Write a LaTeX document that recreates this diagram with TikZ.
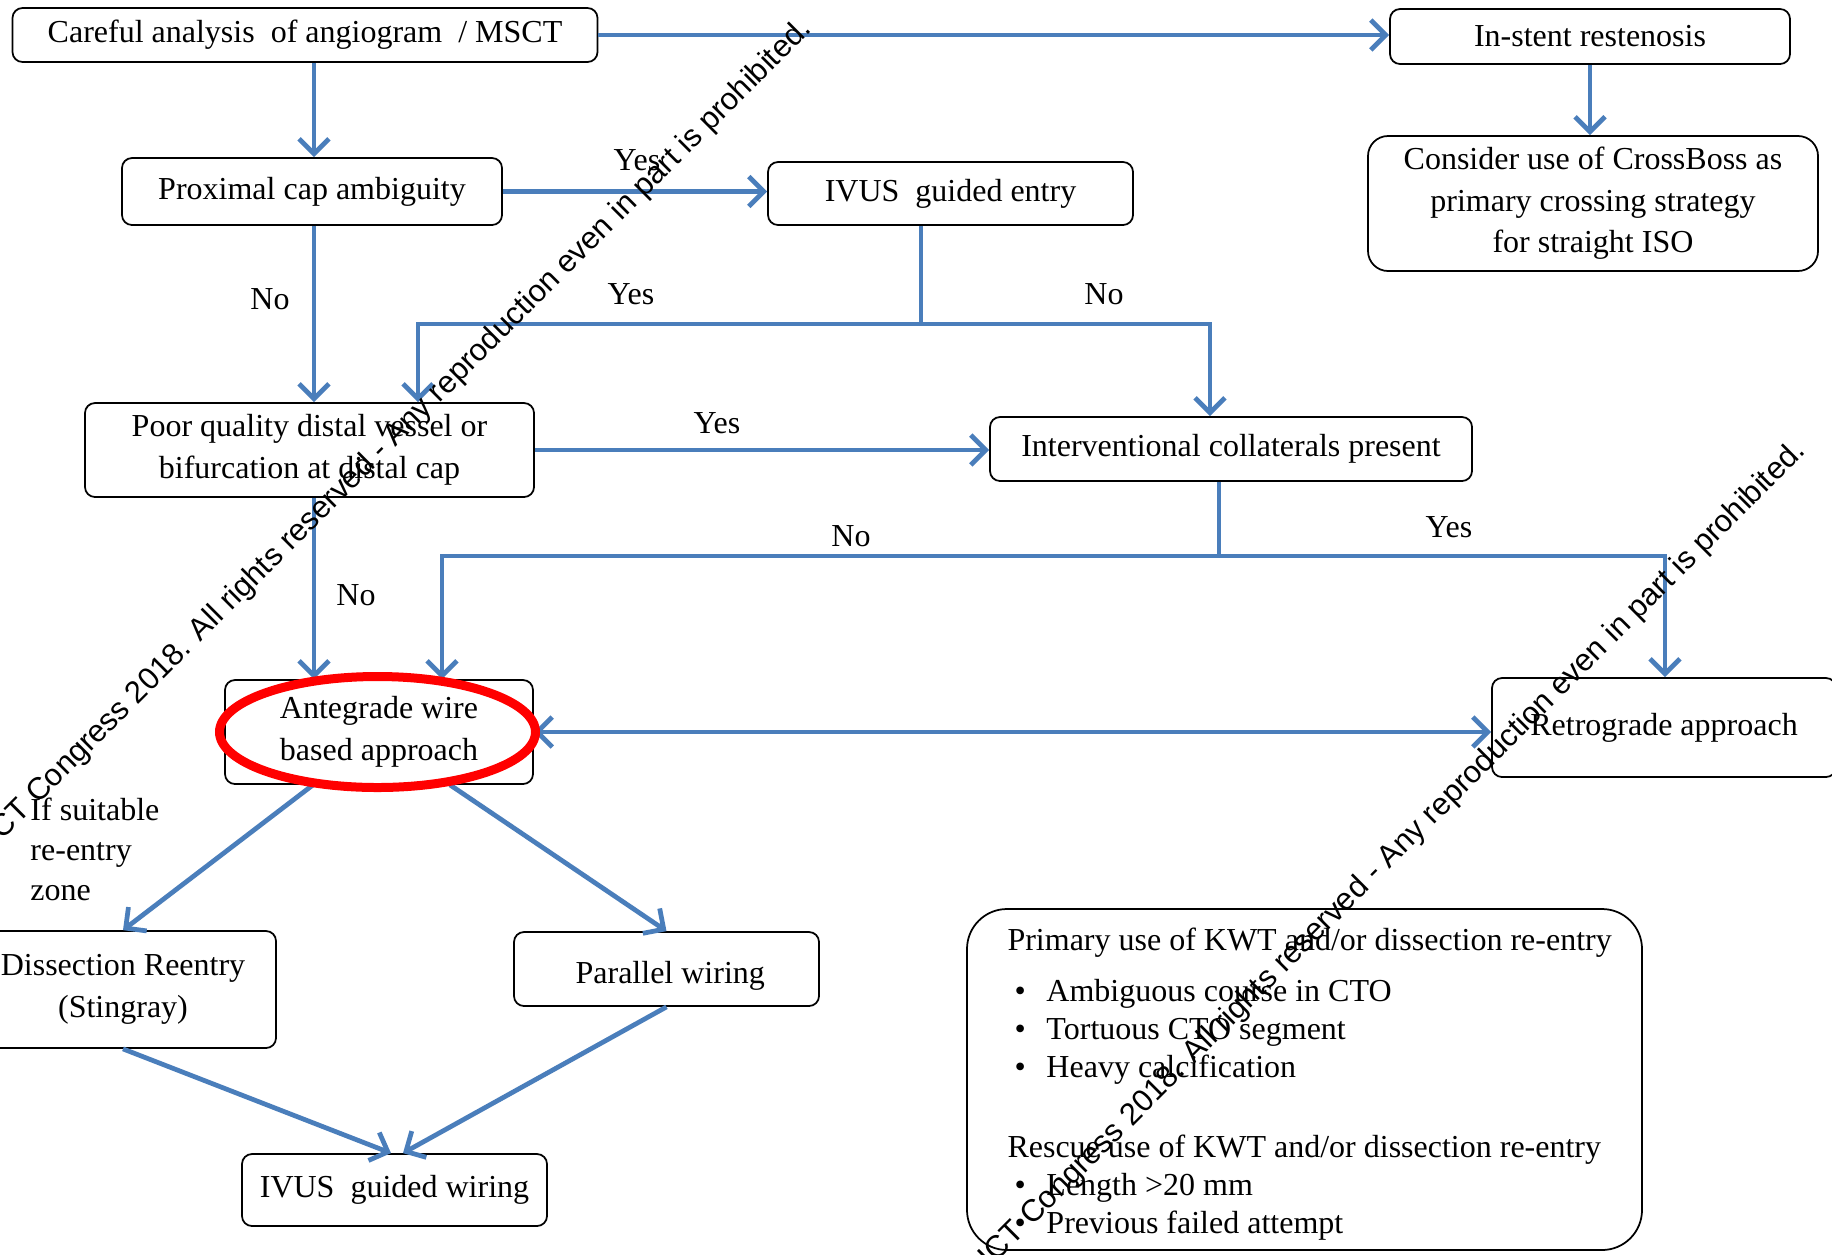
\documentclass[tikz,border=0pt]{standalone}
\usepackage{fontspec}
\setmainfont{Liberation Serif}
\newfontfamily\markfam{Liberation Sans}
\usetikzlibrary{arrows.meta}

\definecolor{flowblue}{RGB}{74,126,187}
\newcommand{\boxfont}{\fontsize{12.8}{16.6}\selectfont}
\newcommand{\bul}{\hspace*{2.8pt}\makebox[12.8pt][l]{\textbullet}}

\begin{document}
\begin{tikzpicture}[x=0.4pt, y=-0.4pt,
  box/.style={draw, line width=0.7pt, rounded corners=4pt, align=center, inner sep=1pt, font=\boxfont},
  arr/.style={flowblue, line width=1.9pt, -{Straight Barb[length=6pt,width=12pt]}},
  dblarr/.style={arr, {Straight Barb[length=6pt,width=12pt]}-{Straight Barb[length=6pt,width=12pt]}},
  link/.style={flowblue, line width=1.9pt},
  lbl/.style={font=\boxfont, inner sep=0pt},
  wmark/.style={font=\markfam\fontsize{12.4}{14}\selectfont, rotate=45, inner sep=0pt, anchor=base east}]

  %--- page frame (pixels of the original, y downwards)
  \useasboundingbox (0,0) rectangle (1832,1254);
  \fill[white] (0,0) rectangle (1832,1254);
  \clip (0,0) rectangle (1832,1254);

  %--- parameters
  \def\xtrunk{314}   % left vertical trunk
  \def\ysplitA{324}  % branch level under IVUS guided entry
  \def\ysplitB{556}  % branch level under collaterals

  %--- boxes
  \node[box, minimum width=234pt, minimum height=21.6pt] (careful) at (305,35) {Careful analysis\ \ of angiogram\ \ / MSCT};
  \node[box, minimum width=160pt, minimum height=22pt] (instent) at (1590,36.5) {In-stent restenosis};
  \node[box, rounded corners=8pt, minimum width=180pt, minimum height=54pt] (crossboss) at (1593,203.5)
    {Consider use of CrossBoss as\\primary crossing strategy\\for straight ISO};
  \node[box, minimum width=152pt, minimum height=26.8pt] (proximal) at (312,191.5) {Proximal cap ambiguity};
  \node[box, minimum width=146pt, minimum height=25.2pt] (ivusentry) at (950.5,193.5) {IVUS\ \ guided entry};
  \node[box, minimum width=179.6pt, minimum height=37.6pt] (poor) at (309.5,450) {Poor quality distal vessel or\\bifurcation at distal cap};
  \node[box, minimum width=192.8pt, minimum height=25.6pt] (interv) at (1231,449) {Interventional collaterals present};
  \node[box, minimum width=123.2pt, minimum height=41.6pt] (antegrade) at (379,732) {Antegrade wire\\based approach};
  \node[box, minimum width=137.6pt, minimum height=39.6pt] (retro) at (1664,727.5) {Retrograde approach};
  \node[box, minimum width=122.4pt, minimum height=46.8pt] (dissect) at (123,989.5) {Dissection Reentry\\(Stingray)};
  \node[box, minimum width=122pt, minimum height=29.6pt, text height=14.3pt] (parallel) at (666.5,969) {\hspace*{3pt}Parallel wiring};
  \node[box, minimum width=122pt, minimum height=28.8pt] (ivuswiring) at (394.5,1190) {IVUS\ \ guided wiring};

  %--- KWT box
  \node[box, rounded corners=16pt, minimum width=270pt, minimum height=136.4pt] (kwt) at (1304.5,1079.5) {};
  \node[lbl, align=left, anchor=north west, font=\fontsize{12.8}{15.2}\selectfont] (kwttext) at (1007,927)
    {Primary use of KWT and/or dissection re-entry\\[5.2pt]
     \bul Ambiguous course in CTO\\
     \bul Tortuous CTO segment\\
     \bul Heavy calcification\\[16.8pt]
     Rescue use of KWT and/or dissection re-entry\\
     \bul Length >20 mm\\
     \bul Previous failed attempt};

  %--- helper points
  \coordinate (ctrunk) at (\xtrunk,0);
  \coordinate (ivsplit) at (921,\ysplitA);
  \coordinate (ivl) at (418,\ysplitA);
  \coordinate (ivr) at (1210,\ysplitA);
  \coordinate (insplit) at (1219,\ysplitB);
  \coordinate (inl) at (442,\ysplitB);
  \coordinate (inr) at (1665,\ysplitB);

  %--- connectors
  \draw[arr] (careful.east) -- (careful.east -| instent.west);
  \draw[arr] (careful.south -| ctrunk) -- (proximal.north -| ctrunk);
  \draw[arr] (instent.south) -- (instent.south |- crossboss.north);
  \draw[arr] (proximal.east) -- (proximal.east -| ivusentry.west);
  \draw[arr] (proximal.south -| ctrunk) -- (poor.north -| ctrunk);
  \draw[link] (ivusentry.south -| ivsplit) -- (ivsplit);
  \draw[arr] (ivsplit) -| (ivl |- poor.north);
  \draw[arr] (ivsplit) -| (ivr |- interv.north);
  \draw[arr] (poor.east) -- (poor.east -| interv.west);
  \draw[arr] (poor.south -| ctrunk) -- (antegrade.north -| ctrunk);
  \draw[link] (interv.south -| insplit) -- (insplit);
  \draw[arr] (insplit) -| (inl |- antegrade.north);
  \draw[arr] (insplit) -| (inr |- retro.north);
  \draw[dblarr] (antegrade.east) -- (antegrade.east -| retro.west);
  \draw[arr] ([xshift=-26.4pt]antegrade.south) -- (dissect.north);
  \draw[arr] ([xshift=28.4pt]antegrade.south) -- (parallel.north);
  \draw[arr] (dissect.south) -- ([xshift=-1.4pt]ivuswiring.north);
  \draw[arr] (parallel.south) -- ([xshift=3.4pt]ivuswiring.north);

  %--- branch labels
  \foreach \n/\x/\y/\t in {yesA/637/160/Yes, noA/270/299/No, yesB/631/294/Yes, noB/1104/294/No,
                           yesC/717/423/Yes, noC/356/595/No, noD/851/536/No, yesD/1449/527/Yes}
    \node[lbl] (\n) at (\x,\y) {\t};
  \node[lbl, align=left, anchor=north west, font=\fontsize{12.8}{16}\selectfont] (reentry) at (30,797) {If suitable\\re-entry\\zone};

  %--- red highlight
  \draw[red, line width=3.6pt] ([xshift=-0.6pt]antegrade.center) ellipse [x radius=63.2pt, y radius=22.2pt];

  %--- watermark lines
  \node[wmark] (markA) at (813,30) {AICT Congress 2018. All rights reserved - Any reproduction even in part is prohibited.};
  \node[wmark] (markB) at (1807,452) {AICT Congress 2018. All rights reserved - Any reproduction even in part is prohibited.};
\end{tikzpicture}
\end{document}
